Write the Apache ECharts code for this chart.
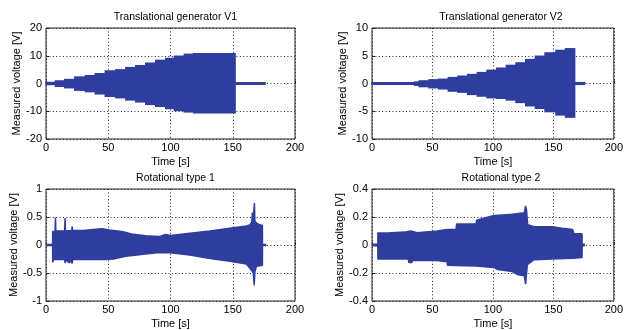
<!DOCTYPE html>
<html>
<head>
<meta charset="utf-8">
<script src="https://cdn.jsdelivr.net/npm/echarts@6/dist/echarts.min.js"></script>
<style>
html,body{margin:0;padding:0;background:#fff;}
#chart{width:626px;height:330px;}
</style>
</head>
<body>
<div id="chart"></div>
<script>
// ---- Data (envelopes of the measured signals) ----
const titles = ['Translational generator V1', 'Translational generator V2', 'Rotational type 1', 'Rotational type 2'];
const xTicks = [0, 50, 100, 150, 200];
const yTicks1 = [-20, -10, 0, 10, 20];
const yTicks2 = [-10, -5, 0, 5, 10];
const yTicks3 = [-1, -0.5, 0, 0.5, 1];
const yTicks4 = [-0.4, -0.2, 0, 0.2, 0.4];

// Translational generator V1 (stepped envelope; value k holds from time k to time k+1)
const v1Time  = [0, 7.5, 15, 23, 31.5, 39.5, 47.5, 56, 64, 72, 80, 88, 96, 103, 111, 118.5, 152, 176];
const v1Upper = [0.45, 1.0, 1.5, 2.4, 2.9, 3.6, 4.6, 5.0, 5.8, 6.5, 7.4, 8.4, 9.1, 9.9, 10.6, 10.8, 0.35];
const v1Lower = [-0.45, -1.1, -1.6, -2.5, -3.0, -3.8, -4.7, -5.2, -6.0, -6.7, -7.6, -8.3, -9.1, -9.8, -10.3, -10.6, -0.35];

// Translational generator V2 (stepped envelope)
const v2Time  = [0, 35, 39, 47, 55, 63, 71, 79, 87, 95, 103, 111, 119, 127, 135, 143, 152, 160, 167.7, 176];
const v2Upper = [0.18, 0.3, 0.5, 0.7, 0.8, 1.1, 1.35, 1.65, 2.0, 2.4, 2.8, 3.3, 3.75, 4.35, 4.95, 5.55, 6.0, 6.3, 0.2];
const v2Lower = [-0.18, -0.35, -0.6, -0.8, -1.0, -1.4, -1.6, -2.0, -2.3, -2.6, -2.7, -3.0, -3.45, -4.05, -4.5, -5.1, -5.7, -6.1, -0.2];

// Rotational type 1
const r1UpTime = [0, 5.3, 5.4, 7.3, 7.6, 7.9, 15.0, 15.3, 15.6, 20.7, 21.0, 21.3, 30, 40, 45, 51, 62, 70, 80, 91, 96, 100, 115.6, 131.7, 147.7, 161, 164, 165.3, 165.8, 166.3, 167.0, 167.4, 167.8, 170.6, 173.8, 173.9, 177];
const r1Upper  = [0.01, 0.01, 0.24, 0.24, 0.49, 0.25, 0.25, 0.48, 0.25, 0.26, 0.33, 0.26, 0.26, 0.28, 0.29, 0.27, 0.235, 0.19, 0.165, 0.15, 0.19, 0.17, 0.21, 0.25, 0.3, 0.34, 0.36, 0.42, 0.58, 0.42, 0.45, 0.75, 0.42, 0.37, 0.35, 0.01, 0.01];
const r1LoTime = [0, 5.3, 5.4, 6, 15, 15.3, 16, 19, 19.5, 21, 21.5, 48, 54, 64, 80, 91, 99.6, 115.6, 131.7, 147.7, 161, 165, 166.5, 167.2, 167.8, 169, 173.8, 173.9, 177];
const r1Lower  = [-0.01, -0.01, -0.31, -0.26, -0.26, -0.32, -0.27, -0.32, -0.26, -0.33, -0.26, -0.26, -0.25, -0.2, -0.16, -0.135, -0.14, -0.18, -0.24, -0.29, -0.34, -0.45, -0.5, -0.72, -0.48, -0.38, -0.36, -0.01, -0.01];

// Rotational type 2
const r2UpTime = [0, 4.8, 4.9, 13, 14, 27, 27.5, 32, 32.5, 37.5, 38, 54, 62, 69.5, 70, 86, 86.5, 94, 101, 108, 116, 126, 127, 127.8, 128.8, 134, 149, 157, 166, 167, 173.7, 173.8, 176];
const r2Upper  = [0.005, 0.005, 0.085, 0.085, 0.092, 0.092, 0.1, 0.1, 0.087, 0.087, 0.1, 0.1, 0.11, 0.11, 0.15, 0.15, 0.177, 0.195, 0.21, 0.215, 0.22, 0.23, 0.28, 0.25, 0.145, 0.13, 0.13, 0.12, 0.11, 0.08, 0.08, 0.005, 0.005];
const r2LoTime = [0, 4.8, 4.9, 30, 30.5, 33, 33.5, 54, 54.5, 62, 62.5, 86, 86.5, 101, 104, 116, 120, 126, 127, 127.6, 128.5, 134, 149, 166, 173.7, 173.8, 176];
const r2Lower  = [-0.005, -0.005, -0.1, -0.1, -0.125, -0.125, -0.11, -0.11, -0.12, -0.12, -0.145, -0.15, -0.16, -0.16, -0.175, -0.19, -0.21, -0.22, -0.28, -0.28, -0.14, -0.105, -0.1, -0.095, -0.09, -0.005, -0.005];

// ---- Chart ----
const FONT = '"Liberation Sans", Arial, sans-serif';
const BLUE = '#2f3e9e';
const pairs = (ts, vs) => ts.map((t, i) => [t, vs[i]]);
// step blocks: [tStart, tEnd, upper, lower]
const blocks = (ts, up, lo) => up.map((u, k) => [ts[k], ts[k + 1], u, lo[k]]);

const panels = [
  { yTicks: yTicks1, blocks: blocks(v1Time, v1Upper, v1Lower), nameGap: 23 },
  { yTicks: yTicks2, blocks: blocks(v2Time, v2Upper, v2Lower), nameGap: 24 },
  { yTicks: yTicks3, up: pairs(r1UpTime, r1Upper), lo: pairs(r1LoTime, r1Lower), nameGap: 26 },
  { yTicks: yTicks4, up: pairs(r2UpTime, r2Upper), lo: pairs(r2LoTime, r2Lower), nameGap: 24 }
];
const gridPos = [
  { left: 46, top: 28, width: 249, height: 111 },
  { left: 372, top: 28, width: 248, height: 111 },
  { left: 46, top: 189, width: 249, height: 112 },
  { left: 372, top: 189, width: 248, height: 112 }
];

const dotted = { show: true, lineStyle: { color: '#222', width: 1, type: [1, 2.4] } };
const option = {
  animation: false,
  backgroundColor: '#fff',
  textStyle: { fontFamily: FONT },
  title: gridPos.map((g, i) => ({
    text: titles[i],
    left: g.left + g.width / 2,
    top: g.top - 21,
    textAlign: 'center',
    textStyle: { fontFamily: FONT, fontSize: 10.5, fontWeight: 'normal', color: '#000' }
  })),
  grid: gridPos.map(g => Object.assign({ show: true, borderColor: '#222', borderWidth: 1, backgroundColor: '#fff' }, g)),
  xAxis: [], yAxis: [], series: []
};

function renderBlock(params, api) {
  const p0 = api.coord([api.value(0), api.value(2)]);
  const p1 = api.coord([api.value(1), api.value(3)]);
  const x0 = Math.min(p0[0], p1[0]), x1 = Math.max(p0[0], p1[0]);
  const y0 = Math.min(p0[1], p1[1]), y1 = Math.max(p0[1], p1[1]);
  const h = Math.max(2, y1 - y0 + 1);
  const cy = (y0 + y1) / 2;
  return {
    type: 'rect',
    shape: { x: x0 - 0.6, y: cy - h / 2, width: (x1 - x0) + 1.2, height: h },
    style: { fill: BLUE }
  };
}

panels.forEach((p, i) => {
  const yMin = p.yTicks[0], yMax = p.yTicks[p.yTicks.length - 1];
  const yInt = p.yTicks[1] - p.yTicks[0];
  const overlap = (yMax - yMin) * 0.006;
  option.xAxis.push({
    type: 'value', gridIndex: i, min: xTicks[0], max: xTicks[xTicks.length - 1], interval: xTicks[1] - xTicks[0],
    axisLine: { show: false },
    axisTick: { show: true, inside: true, length: 3, lineStyle: { color: '#222' } },
    axisLabel: { fontFamily: FONT, fontSize: 11, color: '#000', margin: 3 },
    splitLine: dotted,
    name: 'Time [s]', nameLocation: 'middle', nameGap: 17,
    nameTextStyle: { fontFamily: FONT, fontSize: 11, color: '#000' }
  });
  option.yAxis.push({
    type: 'value', gridIndex: i, min: yMin, max: yMax, interval: yInt,
    axisLine: { show: false },
    axisTick: { show: true, inside: true, length: 3, lineStyle: { color: '#222' } },
    axisLabel: { fontFamily: FONT, fontSize: 11, color: '#000', margin: 4 },
    splitLine: dotted,
    name: 'Measured voltage [V]', nameLocation: 'middle', nameGap: p.nameGap, nameRotate: 90,
    nameTextStyle: { fontFamily: FONT, fontSize: 11, color: '#000' }
  });
  if (p.blocks) {
    option.series.push({
      type: 'custom', xAxisIndex: i, yAxisIndex: i, data: p.blocks,
      encode: { x: [0, 1], y: [2, 3] },
      renderItem: renderBlock, silent: true, z: 3
    });
  } else {
    [[p.up, -overlap], [p.lo, overlap]].forEach(([d, org]) => {
      option.series.push({
        type: 'line', xAxisIndex: i, yAxisIndex: i, data: d,
        symbol: 'none', silent: true,
        lineStyle: { color: BLUE, width: 1.5 },
        areaStyle: { color: BLUE, opacity: 1, origin: org },
        z: 3
      });
    });
  }
});

const chart = echarts.init(document.getElementById('chart'), null, { renderer: 'canvas' });
chart.setOption(option);
</script>
</body>
</html>
